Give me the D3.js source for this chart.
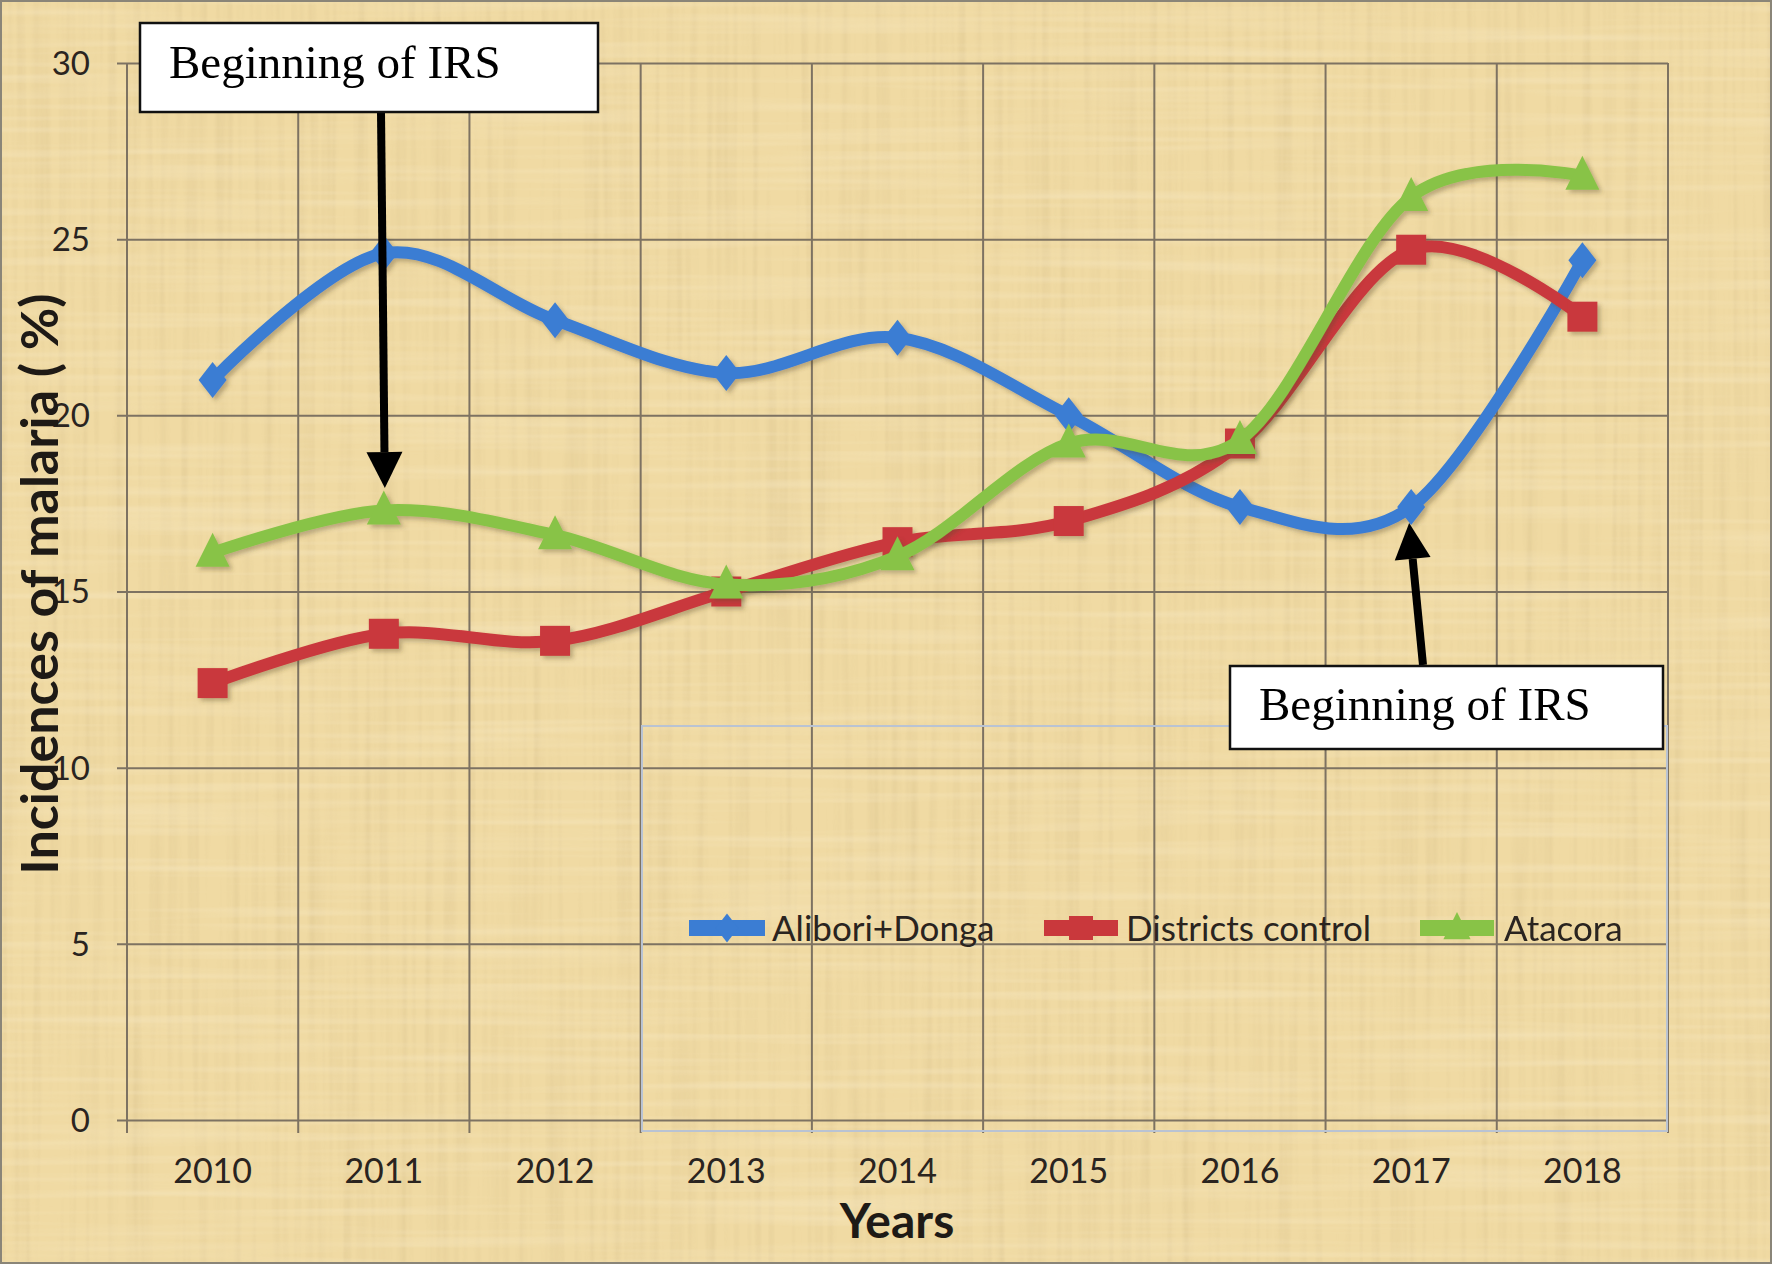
<!DOCTYPE html>
<html>
<head>
<meta charset="utf-8">
<script src="https://cdn.jsdelivr.net/npm/d3@7"></script>
<style>
body{margin:0;background:#ffffff;}
svg{display:block;}
</style>
</head>
<body>
<svg id="chart" width="1772" height="1264"></svg>
<script>
// ---- data ----
const years = ["2010","2011","2012","2013","2014","2015","2016","2017","2018"];
const aliboriDonga = [21.0, 24.6, 22.7, 21.2, 22.2, 20.0, 17.4, 17.4, 24.4];
const districtsControl = [12.4, 13.8, 13.6, 15.0, 16.4, 17.0, 19.2, 24.7, 22.8];
const atacora = [16.1, 17.3, 16.6, 15.2, 16.0, 19.2, 19.3, 26.2, 26.8];
const seriesNames = ["Alibori+Donga", "Districts control", "Atacora"];
const yTicks = [0, 5, 10, 15, 20, 25, 30];
const yTitle = "Incidences of malaria ( %)";
const xTitle = "Years";
const annotationText = "Beginning of IRS";
const annotationYears = ["2011", "2017"];

// ---- setup ----
const W = 1772, H = 1264;
const svg = d3.select("#chart");
const defs = svg.append("defs");

// papyrus-like texture
const tex = defs.append("filter").attr("id","tex").attr("x",0).attr("y",0).attr("width","100%").attr("height","100%");
tex.append("feTurbulence").attr("type","fractalNoise").attr("baseFrequency","0.12 0.003").attr("numOctaves",2).attr("seed",3).attr("result","v");
tex.append("feColorMatrix").attr("in","v").attr("type","matrix")
  .attr("values","0 0 0 0 0.6  0 0 0 0 0.46  0 0 0 0 0.22  0 0 0 1.1 -0.47").attr("result","vc");
tex.append("feTurbulence").attr("type","fractalNoise").attr("baseFrequency","0.003 0.12").attr("numOctaves",2).attr("seed",7).attr("result","h");
tex.append("feColorMatrix").attr("in","h").attr("type","matrix")
  .attr("values","0 0 0 0 1  0 0 0 0 0.95  0 0 0 0 0.8  0 0 0 0.9 -0.4").attr("result","hc");
const m = tex.append("feMerge");
m.append("feMergeNode").attr("in","vc");
m.append("feMergeNode").attr("in","hc");

const shadow = defs.append("filter").attr("id","shadow").attr("x","-30%").attr("y","-30%").attr("width","160%").attr("height","160%");
shadow.append("feDropShadow").attr("dx",3).attr("dy",3).attr("stdDeviation",2).attr("flood-color","#5a4a2a").attr("flood-opacity",0.35);

// background
svg.append("rect").attr("width",W).attr("height",H).attr("fill","#f0daa3");
svg.append("rect").attr("width",W).attr("height",H).attr("fill","#f0daa3").attr("filter","url(#tex)").attr("opacity",0.5);
svg.append("rect").attr("x",1).attr("y",1).attr("width",W-2).attr("height",H-2)
  .attr("fill","none").attr("stroke","#8a8578").attr("stroke-width",2);

// scales
const x = d3.scaleBand().domain(years).range([127, 1668]).paddingInner(0).paddingOuter(0);
const y = d3.scaleLinear().domain([0, 30]).range([1120, 63]);
const cx = d => x(d) + x.bandwidth()/2;

const gridColor = "#7d7262";

// horizontal gridlines with ticks to the left
const gY = svg.append("g")
  .attr("transform","translate(1668,0)")
  .call(d3.axisLeft(y).tickValues(yTicks).tickSize(1668-117).tickFormat(""));
gY.select(".domain").remove();
gY.selectAll("line").attr("stroke",gridColor).attr("stroke-width",2);

// vertical gridlines at band boundaries (with ticks below axis)
const boundaries = years.map(d => x(d)).concat([x.range()[1]]);
svg.append("g").selectAll("line").data(boundaries).join("line")
  .attr("x1",d=>d).attr("x2",d=>d)
  .attr("y1",y(30)).attr("y2",1133)
  .attr("stroke",gridColor).attr("stroke-width",2);

// legend box (light outline)
svg.append("rect").attr("x",642).attr("y",726).attr("width",1025).attr("height",405)
  .attr("fill","none").attr("stroke","#b9c3d3").attr("stroke-width",2);

// y tick labels
svg.append("g").selectAll("text").data(yTicks).join("text")
  .attr("x",90).attr("y",d=>y(d)).attr("dy","0.36em")
  .attr("text-anchor","end")
  .attr("font-family","Lato, 'Open Sans', sans-serif").attr("font-size",33)
  .attr("fill","#2a2420").text(d=>d);

// x tick labels
svg.append("g").selectAll("text").data(years).join("text")
  .attr("x",d=>cx(d)).attr("y",1183)
  .attr("text-anchor","middle")
  .attr("font-family","Lato, 'Open Sans', sans-serif").attr("font-size",34)
  .attr("fill","#2a2420").text(d=>d);

// axis titles
svg.append("text").attr("x",897).attr("y",1238).attr("text-anchor","middle")
  .attr("font-family","Lato, sans-serif").attr("font-weight","bold").attr("font-size",48)
  .attr("fill","#1e1a16").text(xTitle);
svg.append("text").attr("transform","translate(58,584) rotate(-90)").attr("text-anchor","middle")
  .attr("font-family","Lato, sans-serif").attr("font-weight","bold").attr("font-size",52)
  .attr("fill","#1e1a16").text(yTitle);

// series
const series = [
  {name: seriesNames[0], values: aliboriDonga, color: "#3b7dd3", marker: "diamond"},
  {name: seriesNames[1], values: districtsControl, color: "#c9383c", marker: "square"},
  {name: seriesNames[2], values: atacora, color: "#88c347", marker: "triangle"}
];

const markerPath = {
  diamond: "M0,-18 L14,0 L0,18 L-14,0 Z",
  square: "M-15,-15 L15,-15 L15,15 L-15,15 Z",
  triangle: "M0,-20 L17,14 L-17,14 Z"
};

const line = d3.line()
  .x((d,i)=>cx(years[i]))
  .y(d=>y(d))
  .curve(d3.curveCardinal.tension(0));

series.forEach(s => {
  const g = svg.append("g").attr("filter","url(#shadow)");
  g.append("path").datum(s.values).attr("d",line)
    .attr("fill","none").attr("stroke",s.color).attr("stroke-width",12)
    .attr("stroke-linejoin","round").attr("stroke-linecap","round");
  g.selectAll("path.mk").data(s.values).join("path").attr("class","mk")
    .attr("d",markerPath[s.marker])
    .attr("transform",(d,i)=>`translate(${cx(years[i])},${y(d)})`)
    .attr("fill",s.color);
});

// legend entries
const legendPos = [
  {x0: 689, x1: 765, tx: 772},
  {x0: 1044, x1: 1118, tx: 1126},
  {x0: 1420, x1: 1494, tx: 1504}
];
const legendY = 928;
series.forEach((s,i) => {
  const p = legendPos[i];
  const g = svg.append("g");
  g.append("line").attr("x1",p.x0).attr("x2",p.x1).attr("y1",legendY).attr("y2",legendY)
    .attr("stroke",s.color).attr("stroke-width",16);
  g.append("path").attr("d",markerPath[s.marker])
    .attr("transform",`translate(${(p.x0+p.x1)/2},${legendY}) scale(0.8)`)
    .attr("fill",s.color);
  g.append("text").attr("x",p.tx).attr("y",legendY).attr("dy","0.36em")
    .attr("font-family","Lato, 'Open Sans', sans-serif").attr("font-size",35)
    .attr("fill","#2a2420").text(s.name);
});

// annotations
function arrow(x1,y1,x2,y2){
  const g = svg.append("g");
  const ang = Math.atan2(y2-y1, x2-x1);
  const headLen = 36, headW = 18;
  const bx = x2 - headLen*Math.cos(ang), by = y2 - headLen*Math.sin(ang);
  g.append("line").attr("x1",x1).attr("y1",y1).attr("x2",bx).attr("y2",by)
    .attr("stroke","#000").attr("stroke-width",8);
  const px = -Math.sin(ang), py = Math.cos(ang);
  g.append("path").attr("d",`M${x2},${y2} L${bx+px*headW},${by+py*headW} L${bx-px*headW},${by-py*headW} Z`)
    .attr("fill","#000");
}
arrow(381, 112, cx(annotationYears[0])+1, 488);
arrow(1423, 665, cx(annotationYears[1])-2, 523);

function box(x0,y0,w,h,tx,ty){
  svg.append("rect").attr("x",x0).attr("y",y0).attr("width",w).attr("height",h)
    .attr("fill","#ffffff").attr("stroke","#111").attr("stroke-width",2.5);
  svg.append("text").attr("x",tx).attr("y",ty)
    .attr("font-family","'Liberation Serif', 'Times New Roman', serif").attr("font-size",47)
    .attr("fill","#000").text(annotationText);
}
box(140, 23, 458, 89, 169, 78);
box(1230, 666, 433, 83, 1259, 720);
</script>
</body>
</html>
